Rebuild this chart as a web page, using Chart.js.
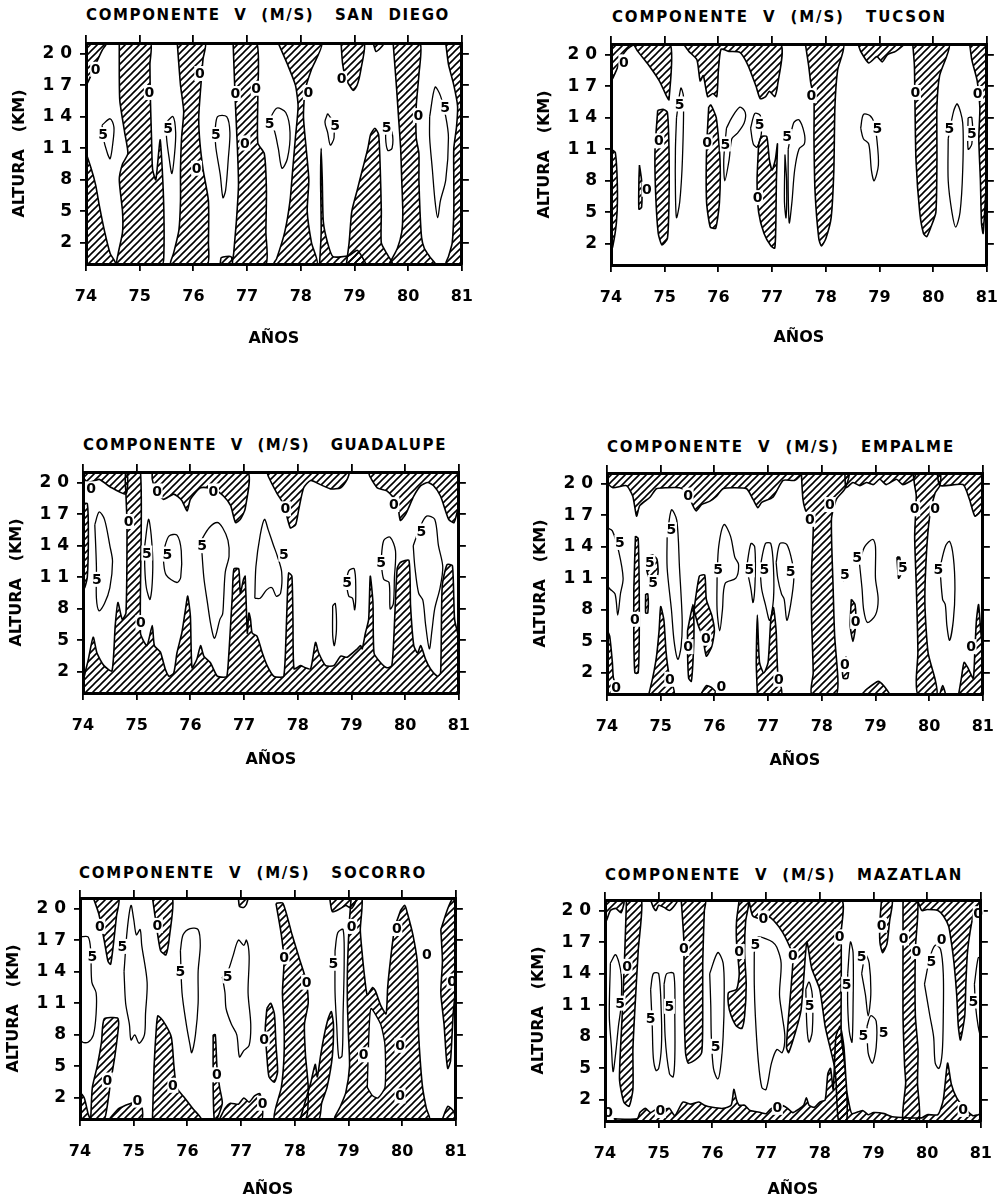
<!DOCTYPE html>
<html>
<head>
<meta charset="utf-8">
<script src="https://cdn.jsdelivr.net/npm/chart.js@4.4.1/dist/chart.umd.min.js"></script>
<style>
  body { margin: 0; background: #fff; width: 999px; height: 1197px; position: relative; overflow: hidden; }
  .ttl { position: absolute; font: bold 15px "DejaVu Sans"; line-height: 18px; white-space: pre; color: #000; }
  canvas { position: absolute; }
</style>
</head>
<body>
<script>
// axis ticks
const yearTicks = [74, 75, 76, 77, 78, 79, 80, 81];
const heightTicks = [2, 5, 8, 11, 14, 17, 20];

// hatched areas (V < 0), [year, km] outlines
const sanDiegoHatch = [
  [[74,21],[74,17],[74.1,18],[74.2,19.2],[74.3,20.3],[74.38,21]],
  [[74,0],[74,10.4],[74.1,9],[74.18,7.5],[74.25,5.5],[74.35,3],[74.45,1],[74.55,0]],
  [[74.62,21],[74.62,18],[74.63,15.5],[74.72,12.5],[74.78,10.5],[74.68,9.5],[74.62,8],[74.68,5],[74.68,3],[74.6,1],[74.58,0],[75.42,0],[75.45,1],[75.45,5],[75.42,9],[75.38,11.8],[75.3,8],[75.24,9],[75.22,12],[75.2,15.5],[75.19,19],[75.2,21]],
  [[75.7,21],[75.76,17],[75.82,14.5],[75.78,12],[75.76,9],[75.76,6],[75.73,3.2],[75.63,1],[75.58,0],[76.26,0],[76.28,2],[76.28,6],[76.18,9],[76.12,11.6],[76.1,14],[76.14,17],[76.18,19.5],[76.22,21]],
  [[76.74,21],[76.78,15.5],[76.82,11],[76.84,7.5],[76.8,4],[76.75,1],[76.74,0],[77.35,0],[77.35,3],[77.36,7],[77.32,10.5],[77.2,11.5],[77.2,16],[77.18,21]],
  [[76.5,0],[76.52,0.6],[76.7,0.7],[76.72,0]],
  [[77.58,21],[77.75,19],[77.9,17],[77.95,15],[77.9,12],[77.85,9],[77.8,6],[77.7,3],[77.55,0.5],[77.5,0],[78.3,0],[78.2,2],[78.12,5],[78.15,8],[78.1,11],[78.05,14],[78.08,16.5],[78.2,18.5],[78.39,21]],
  [[78.35,0],[78.38,3],[78.37,8],[78.38,11],[78.4,8],[78.42,4],[78.5,2],[78.6,0.7],[78.9,0.8],[79.05,1.3],[79.15,0.6],[79.2,0]],
  [[78.85,0],[78.9,2],[78.95,5],[79.05,7],[79.15,9],[79.25,11],[79.3,12.3],[79.38,12.9],[79.45,12.3],[79.48,9],[79.5,5],[79.5,2],[79.6,1],[79.7,0]],
  [[79.72,21],[79.78,17],[79.82,14],[79.86,11],[79.88,8],[79.9,5],[79.88,3],[79.8,1.5],[79.7,0.5],[79.65,0],[80.5,0],[80.4,0.7],[80.3,1.5],[80.25,2.5],[80.22,5],[80.2,8],[80.2,10.5],[80.15,12],[80.15,15],[80.2,18],[80.22,21]],
  [[78.75,21],[78.78,19],[78.85,17.5],[78.98,16.5],[79.05,17],[79.12,18.5],[79.18,21]],
  [[79.35,21],[79.4,20.2],[79.48,20.5],[79.55,21]],
  [[80.7,21],[80.75,19],[80.85,17],[80.92,15],[80.9,13],[80.85,11],[80.85,8],[80.85,5],[80.82,2],[80.75,0.7],[80.7,0],[81,0],[81,21]]
];
const sanDiegoFive = [
  [[74.3,13.2],[74.45,13.8],[74.52,13],[74.5,11.5],[74.45,10],[74.4,10.5],[74.32,12]],
  [[75.5,13.5],[75.62,14],[75.67,12.5],[75.65,10.5],[75.6,8.6],[75.55,10],[75.5,12]],
  [[76.4,12.5],[76.45,14],[76.62,14],[76.68,12.5],[76.65,10],[76.6,7],[76.55,6.3],[76.5,8.5],[76.42,11]],
  [[77.4,13.5],[77.55,14.8],[77.72,14.4],[77.8,12.5],[77.75,10],[77.65,9.1],[77.58,11],[77.5,12.8]],
  [[78.5,14.3],[78.6,13.5],[78.62,12],[78.55,11.3],[78.5,12.5],[78.45,13.5]],
  [[79.6,13.3],[79.7,12.5],[79.7,11],[79.62,10.8],[79.58,12]],
  [[80.4,14],[80.5,16.8],[80.6,16],[80.7,14],[80.75,12],[80.7,8],[80.6,6],[80.55,4.4],[80.5,6],[80.45,9],[80.4,12]]
];
const sanDiegoZeroAt = [[74.18,18.5],[75.18,16.3],[76.12,18.1],[76.06,9.1],[76.78,16.2],[77.17,16.7],[76.96,11.5],[78.14,16.3],[78.76,17.6],[80.19,14.1]];
const sanDiegoFiveAt = [[74.32,12.3],[75.53,12.9],[76.42,12.3],[77.42,13.4],[78.64,13.2],[79.6,13],[80.69,14.9]];

const tucsonHatch = [
  [[74,21],[74,17.5],[74.1,18.5],[74.2,19.8],[74.3,20.5],[74.42,21]],
  [[74,11],[74.08,10.7],[74.12,7],[74.1,4],[74.03,1.7],[74,1.5]],
  [[74.42,21],[74.5,20.3],[74.7,19],[74.9,17.5],[75.04,16],[75.08,15.7],[75.1,21]],
  [[74.87,14.7],[74.82,11],[74.83,7],[74.88,3],[74.95,1.9],[75.05,2.5],[75.08,6],[75.08,11],[75.05,14.5],[74.97,14.8]],
  [[74.53,9.5],[74.57,8],[74.57,5.5],[74.52,5.3],[74.52,8]],
  [[75.35,21],[75.45,20.3],[75.6,19.5],[75.66,17.5],[75.72,18],[75.8,16],[75.9,16.3],[75.97,16],[76,18.5],[76.05,20.5],[76.2,20.3],[76.4,20.2],[76.55,19],[76.7,17],[76.78,15.8],[76.88,16],[76.95,16.5],[77.05,16],[77.1,17],[77.15,21]],
  [[75.82,15],[75.78,11],[75.78,6],[75.85,3.6],[75.95,3.5],[76.02,6],[76.03,10],[75.96,14],[75.86,15.2]],
  [[76.75,11.5],[76.72,8],[76.75,5],[76.85,3],[76.98,1.8],[77.05,1.6],[77.07,4],[77.08,8],[77.1,11.5],[77.06,10],[77,9],[76.95,10],[76.9,12.2],[76.8,12.2]],
  [[77.62,21],[77.68,19],[77.72,17.3],[77.78,15.8],[77.78,12],[77.8,7],[77.87,2.5],[77.92,1.8],[78,2.5],[78.1,4.5],[78.15,9],[78.17,15],[78.22,18.5],[78.33,21]],
  [[78.6,21],[78.65,20.3],[78.8,19.2],[78.95,19.8],[79.05,19.3],[79.15,20],[79.3,20.3],[79.45,21]],
  [[79.62,21],[79.65,19],[79.66,15.7],[79.68,10],[79.75,5],[79.82,3],[79.88,2.7],[79.95,3.5],[80.05,5],[80.07,10],[80.07,15],[80.12,18],[80.3,21]],
  [[80.68,21],[80.72,19.5],[80.82,17.5],[80.87,15],[80.85,12],[80.88,8],[80.9,4],[80.93,3],[80.97,6],[81,9],[81,21]]
];
const tucsonFive = [
  [[75.22,14],[75.3,16.8],[75.35,16],[75.33,10],[75.28,6],[75.22,4.5],[75.2,7],[75.2,11]],
  [[76.15,13],[76.25,14],[76.4,15],[76.5,14.5],[76.48,13.5],[76.35,12.5],[76.25,12],[76.2,10],[76.12,8],[76.1,10]],
  [[76.6,13],[76.68,14.4],[76.78,14.2],[76.8,12.5],[76.72,11.2],[76.65,11.5]],
  [[77.3,11],[77.4,13.5],[77.5,13.8],[77.6,12.5],[77.6,11.5],[77.5,11],[77.42,9],[77.37,6],[77.32,4],[77.3,7]],
  [[78.65,13],[78.7,14.3],[78.82,14.2],[78.9,13.5],[78.95,12],[78.98,9.5],[78.9,8],[78.85,9],[78.8,11.5],[78.7,12]],
  [[80.28,12],[80.38,14.6],[80.45,15.3],[80.55,13.5],[80.55,9],[80.5,5],[80.42,3.6],[80.35,5],[80.28,8]],
  [[80.65,14],[80.72,14],[80.72,11.5],[80.65,11]],
  [[77.24,10.5],[77.27,8],[77.26,4.5],[77.23,6]]
];
const tucsonZeroAt = [[74.24,19.3],[74.89,11.8],[74.67,7.2],[75.79,11.7],[76.73,6.4],[77.73,16.1],[79.67,16.4],[80.83,16.3]];
const tucsonFiveAt = [[75.28,15.3],[76.13,11.5],[76.77,13.4],[77.28,12.2],[78.96,13],[80.3,13],[80.72,12.5]];

const guadalupeHatch = [
  [[74,21],[74,20.5],[74.1,20],[74.3,20.3],[74.5,19.6],[74.8,18.9],[74.8,21]],
  [[74,18],[74.08,18],[74.1,15],[74.08,11],[74.03,10],[74,10.2]],
  [[74,0],[74,1],[74.1,3.2],[74.19,5.3],[74.26,3.8],[74.39,2.6],[74.54,2.1],[74.6,6.4],[74.65,8.6],[74.73,7],[74.8,7.6],[74.82,16],[74.8,18.9],[74.8,21],[75.07,21],[75.07,5.7],[75.19,4.5],[75.29,6.4],[75.33,4.5],[75.44,3.9],[75.53,2.3],[75.6,1.6],[75.69,1.9],[75.75,3.8],[75.84,5.7],[75.91,8],[75.95,9.2],[76,7.3],[76.03,2.4],[76.12,3.2],[76.19,4.5],[76.25,3.5],[76.37,2.9],[76.5,1.6],[76.62,1.5],[76.68,1.6],[76.71,3.2],[76.74,5.7],[76.78,9.2],[76.81,11.8],[76.9,11.8],[76.93,9.5],[76.99,10.8],[77.02,11.1],[77.06,5.7],[77.09,7.6],[77.12,7],[77.15,5.7],[77.24,5.4],[77.34,3.8],[77.43,2.6],[77.55,1.6],[77.68,1.5],[77.74,1.6],[77.77,3.8],[77.8,8.3],[77.83,11.4],[77.89,11.1],[77.91,7],[77.93,2.3],[78.05,2.6],[78.14,2.4],[78.24,2.3],[78.33,4.8],[78.39,3.8],[78.52,2.6],[78.67,2.6],[78.8,3.5],[78.92,3.4],[79.11,4.2],[79.17,4.5],[79.2,4.2],[79.26,5.7],[79.32,7],[79.35,11.1],[79.4,8.6],[79.42,3.8],[79.54,2.9],[79.66,2.4],[79.75,2.6],[79.79,5.4],[79.85,11.8],[79.91,12.4],[80.07,12.6],[80.1,8.3],[80.16,4.5],[80.23,3.8],[80.29,4.5],[80.38,3.2],[80.47,2.3],[80.6,1.6],[80.66,1.9],[80.69,10.2],[80.78,12.2],[80.88,12.1],[80.92,7],[81,5.1],[81,0]],
  [[75.29,21],[75.29,20.3],[75.38,19],[75.5,18.4],[75.69,18.9],[75.84,18.3],[75.94,17.3],[76,18.4],[76.19,19.5],[76.43,19.4],[76.62,18.7],[76.75,17.8],[76.84,16.2],[76.93,16.5],[77.02,17.5],[77.06,21]],
  [[77.43,21],[77.45,20.6],[77.61,19],[77.74,17.9],[77.86,15.7],[77.96,16],[78.02,17.5],[78.11,19.5],[78.24,20.2],[78.42,19.8],[78.61,19.4],[78.8,19.5],[78.92,20.3],[78.95,21]],
  [[79.32,21],[79.34,20.6],[79.48,19.5],[79.66,19.2],[79.85,18.1],[79.91,16.4],[80.01,17],[80.16,18.7],[80.29,19.7],[80.42,20],[80.53,19.7],[80.66,18.7],[80.81,16.5],[80.91,16.2],[81,18.1],[81,21]]
];
const guadalupeFive = [
  [[74.22,16],[74.3,17.2],[74.4,16.5],[74.5,14],[74.55,12.5],[74.5,10],[74.4,8.5],[74.3,7.8],[74.25,9],[74.25,12]],
  [[75.15,14],[75.22,16.5],[75.27,15],[75.3,12],[75.25,8.9],[75.18,10],[75.15,12]],
  [[75.5,13.5],[75.6,14.9],[75.75,15],[75.83,13.5],[75.82,11],[75.75,10.5],[75.55,11.2],[75.5,12.5]],
  [[76.2,14.5],[76.35,15.7],[76.5,16.2],[76.6,15.7],[76.7,14.5],[76.72,13],[76.65,11.5],[76.62,9],[76.6,7.5],[76.55,7],[76.45,5.2],[76.38,6.5],[76.32,8.5],[76.25,11]],
  [[77.2,9],[77.22,12],[77.3,15],[77.38,16.5],[77.45,15.5],[77.55,14],[77.62,13],[77.7,11.5],[77.68,9.5],[77.6,9.2],[77.52,10],[77.42,9.8],[77.3,9]],
  [[78.9,10.5],[78.95,11.6],[79.05,11.8],[79.08,10],[79.06,7.9],[79.02,9],[78.95,9.2]],
  [[78.65,8.3],[78.7,8.5],[78.72,6],[78.68,4.5],[78.65,5.5]],
  [[79.55,12.5],[79.6,14.5],[79.72,14.8],[79.82,13.5],[79.8,11],[79.78,8.5],[79.72,8],[79.7,10.5],[79.6,10.8]],
  [[80.15,14],[80.28,15.8],[80.4,16.8],[80.55,16.5],[80.62,14],[80.7,12],[80.65,10],[80.55,8],[80.5,6],[80.45,4.2],[80.38,6.5],[80.33,8.8],[80.25,9.5],[80.18,12]]
];
const guadalupeZeroAt = [[74.15,19.4],[74.85,16.3],[75.08,6.7],[75.38,19.2],[76.43,19.2],[77.77,17.5],[79.79,17.9]];
const guadalupeFiveAt = [[74.26,10.8],[75.19,13.3],[75.57,13.2],[76.22,14],[77.74,13.2],[78.92,10.5],[79.55,12.4],[80.3,15.4]];

const empalmeHatch = [
  [[74,21],[74,20.1],[74.11,19.6],[74.36,19.8],[74.48,18.8],[74.55,16.9],[74.61,17.9],[74.8,18.7],[74.92,19.5],[75.11,19.6],[75.35,19.6],[75.48,19.3],[75.6,17.9],[75.66,17.4],[75.76,18],[75.91,18.3],[76.04,18.8],[76.16,19.5],[76.35,19.6],[76.6,19.5],[76.72,18.5],[76.81,17.7],[76.88,18.2],[77.09,18.7],[77.28,20.3],[77.5,20.3],[77.62,21]],
  [[77.62,21],[77.65,18.5],[77.72,17.2],[77.84,16.6],[77.81,11.8],[77.81,7.1],[77.84,2],[77.81,0],[78.27,0],[78.3,1.4],[78.24,5.5],[78.21,10.3],[78.18,16.6],[78.27,18.5],[78.43,19.5],[78.5,21]],
  [[78.43,21],[78.45,19.6],[78.58,20.1],[78.71,19.8],[78.83,20.1],[78.96,19.9],[79.08,20.4],[79.2,19.9],[79.39,20.4],[79.51,19.9],[79.7,20.4],[79.75,21]],
  [[79.7,21],[79.73,19.8],[79.76,18.8],[79.73,15],[79.76,10.3],[79.79,3.9],[79.76,1.4],[79.79,0],[80.14,0],[80.11,1.4],[79.98,3.9],[79.92,8.7],[79.95,13.4],[80.01,16.9],[80.11,19.1],[80.2,19.8],[80.2,21]],
  [[80.15,21],[80.2,19.8],[80.63,19.9],[80.75,18.5],[80.85,16.9],[80.93,17.2],[81,17.9],[81,21]],
  [[74,0],[74,6],[74.05,5.5],[74.1,3],[74.12,1.5],[74.2,0.5],[74.25,0]],
  [[74.53,15],[74.58,14.8],[74.6,10],[74.6,5],[74.58,2],[74.52,2],[74.5,5],[74.5,10]],
  [[74.73,13],[74.85,13.2],[74.93,12.8],[74.95,11.5],[74.88,10.2],[74.8,10.8],[74.73,12]],
  [[74.72,9.5],[74.76,9.5],[74.76,7.7],[74.72,7.7]],
  [[74.78,0],[74.85,1.5],[74.92,3.5],[74.97,6],[75,8.3],[75.06,7],[75.1,4],[75.15,2],[75.25,0]],
  [[75.5,6],[75.6,8.5],[75.62,6],[75.6,3],[75.57,1.2],[75.52,1.5],[75.5,4]],
  [[75.62,8],[75.72,11.2],[75.82,11.3],[75.85,9],[75.95,7.5],[76,6],[75.95,4.5],[75.85,3.6],[75.78,5.5],[75.7,6.5]],
  [[75.75,0],[75.85,0.8],[75.95,0.6],[76.05,0]],
  [[76.8,0],[76.78,3],[76.8,7.5],[76.84,3],[76.92,2],[77,3],[77.05,7],[77.1,8.2],[77.15,6],[77.18,2],[77.25,0]],
  [[78.38,2.5],[78.45,3.5],[78.5,2.5],[78.48,1.5],[78.4,1.5]],
  [[78.55,9],[78.62,8.5],[78.63,6.5],[78.58,5],[78.53,6.5]],
  [[78.75,0],[78.85,0.5],[79.05,1.2],[79.15,0.8],[79.25,0]],
  [[80.55,0],[80.6,1.5],[80.65,3],[80.72,2.5],[80.82,1.5],[80.85,4],[80.88,7],[80.92,8.5],[80.96,6],[81,4],[81,0]],
  [[79.4,13],[79.45,13],[79.48,11.5],[79.43,11]],
  [[80.2,0],[80.25,0.8],[80.3,0]]
];
const empalmeFive = [
  [[74,15.8],[74.1,15.5],[74.22,13.5],[74.3,11],[74.25,9.5],[74.2,7.5],[74.15,9.5],[74.05,10],[74,10.5]],
  [[75.12,15],[75.2,17.5],[75.3,16.5],[75.35,12],[75.4,7],[75.38,4.5],[75.32,3.3],[75.25,5],[75.2,8],[75.12,12]],
  [[76.05,11],[76.08,14],[76.18,16.1],[76.3,15],[76.38,13],[76.45,12.3],[76.4,11],[76.2,10.5],[76.15,8],[76.1,6],[76.05,8]],
  [[76.6,12],[76.68,14.3],[76.75,14],[76.76,11],[76.72,8.7],[76.68,10]],
  [[76.85,12],[76.95,14.3],[77.05,14.3],[77.1,12],[77.1,9],[77.03,7],[76.95,8.5],[76.88,10]],
  [[77.15,12.5],[77.22,14.3],[77.35,14.2],[77.45,12.5],[77.48,11],[77.42,8.5],[77.35,7],[77.3,9],[77.25,9.5],[77.18,11]],
  [[78.7,12.5],[78.8,14],[78.95,14.7],[79,14],[79,11],[79.05,9],[79,7.5],[78.85,6.8],[78.78,8],[78.75,10]],
  [[80.2,12],[80.3,14],[80.38,14.5],[80.45,13],[80.48,10],[80.45,7],[80.38,5.1],[80.33,6.5],[80.3,8.5],[80.25,9]],
  [[78.38,11.8],[78.45,12],[78.47,11],[78.4,10.8]]
];
const empalmeZeroAt = [[74.17,0.6],[74.52,7.1],[75.17,1.4],[75.51,18.9],[75.51,4.5],[75.84,5.3],[76.13,0.7],[77.2,1.4],[77.78,16.6],[78.15,18],[78.43,2.8],[78.63,6.9],[79.73,17.6],[80.11,17.6],[80.78,4.5]];
const empalmeFiveAt = [[74.24,14.4],[75.2,15.6],[76.07,11.8],[76.65,11.8],[76.93,11.8],[77.42,11.7],[78.66,13],[80.17,11.8],[74.8,12.5],[74.86,10.6],[78.43,11.4],[79.51,12]];

const socorroHatch = [
  [[74.25,21],[74.35,19.5],[74.45,17],[74.52,15],[74.57,14.7],[74.62,16.5],[74.68,19.3],[74.72,21]],
  [[74.2,0],[74.23,3],[74.32,5],[74.4,7.3],[74.45,9.5],[74.7,9.6],[74.72,9],[74.65,6],[74.57,3.5],[74.5,1],[74.45,0]],
  [[74,0],[74,2.5],[74.08,2],[74.15,0.5],[74.18,0]],
  [[74.55,0],[74.7,0.9],[74.85,1.3],[75,1.6],[75.12,2],[75.15,0]],
  [[75.35,21],[75.42,18.5],[75.5,16],[75.6,15.6],[75.67,17.5],[75.72,21]],
  [[75.35,0],[75.38,5],[75.42,8.5],[75.45,9.8],[75.55,9.3],[75.7,7.8],[75.75,5],[75.8,3],[75.95,2],[76.1,1],[76.25,0]],
  [[76.48,8],[76.52,8],[76.55,5],[76.6,3],[76.65,1.5],[76.55,0],[76.5,0],[76.48,3]],
  [[76.6,0],[76.7,1],[76.8,1.5],[76.95,1.4],[77.05,2],[77.15,1.6],[77.25,2.2],[77.35,2.4],[77.4,1],[77.38,0]],
  [[76.95,21],[76.97,20.2],[77.05,20.1],[77.1,20.4],[77.12,21]],
  [[77.48,10.5],[77.55,11],[77.62,10],[77.65,7],[77.68,4.5],[77.62,3.5],[77.52,4],[77.48,6],[77.45,8.5]],
  [[77.65,20.5],[77.75,17.5],[77.8,15],[77.77,12],[77.8,9],[77.8,6],[77.75,3],[77.62,0],[78.2,0],[78.25,3],[78.2,6],[78.18,9],[78.25,11],[78.22,13],[78.1,15],[77.95,17.5],[77.78,20.5]],
  [[78.1,0],[78.3,3.5],[78.38,5.2],[78.42,4],[78.48,6],[78.55,8],[78.62,9.5],[78.68,10.2],[78.72,9],[78.7,6],[78.6,3],[78.5,1.5],[78.45,0]],
  [[78.65,21],[78.7,19.7],[78.85,20],[78.95,20.3],[79.05,20],[79.12,20.5],[79.15,21]],
  [[79.05,21],[79.02,19],[79,17],[78.98,14],[78.98,11],[79,8],[79.02,5],[78.95,2.5],[78.85,1.2],[78.75,0],[80.5,0],[80.45,1],[80.38,3],[80.33,6],[80.3,9],[80.3,12],[80.28,15],[80.2,17.5],[80.1,19.5],[80.05,20.3],[79.97,19.8],[79.85,17.8],[79.78,15],[79.73,12.5],[79.7,10],[79.6,10.8],[79.5,12.2],[79.45,12.5],[79.35,11.8],[79.3,13.5],[79.25,16],[79.22,18],[79.25,21]],
  [[80.72,18],[80.75,15],[80.72,12],[80.78,9],[80.82,6],[80.85,4.8],[80.9,5.5],[80.95,10],[81,13],[81,20],[80.95,21],[80.85,20]],
  [[80.75,0],[80.85,1.2],[80.95,0.8],[81,0]]
];
const socorroClear = [
  [[79.35,3],[79.38,8],[79.42,10.5],[79.6,9],[79.68,7],[79.68,3],[79.55,2],[79.45,2.2]]
];
const socorroFive = [
  [[74,17.3],[74.15,17.3],[74.2,16],[74.22,13],[74.3,12],[74.3,10],[74.25,8],[74.15,7.3],[74.05,7.3],[74,7.8]],
  [[74.82,14],[74.88,18],[74.95,20.3],[75,19],[75.05,17.5],[75.12,18],[75.15,16.5],[75.25,13],[75.22,10],[75.2,8],[75.1,7.2],[75.02,8],[74.95,7.5],[74.92,9],[74.85,11]],
  [[75.87,16],[75.92,17.5],[76.05,18.1],[76.2,18],[76.24,16.5],[76.2,14],[76.2,11],[76.15,8],[76.08,6.3],[76.05,7],[75.98,9],[75.9,12]],
  [[76.65,13.5],[76.75,14],[76.85,15.5],[76.95,17],[77.05,16.5],[77.1,17],[77.15,15.5],[77.13,12],[77.18,9],[77.15,7],[77.05,6.5],[76.97,5.9],[76.92,8],[76.82,9],[76.72,10.5],[76.7,12]],
  [[78.75,16],[78.8,17.7],[78.9,18],[78.92,15],[78.9,10],[78.88,6],[78.82,5.8],[78.78,9],[78.75,12]]
];
const socorroZeroAt = [[74.37,18.3],[74.51,3.7],[75.07,1.8],[75.44,18.4],[75.73,3.2],[76.55,4.2],[77.4,1.5],[77.43,7.6],[77.8,15.4],[78.22,13],[79.06,18.3],[79.28,6.1],[79.9,18.1],[79.96,7],[79.96,2.2],[80.46,15.6],[80.93,13.1]];
const socorroFiveAt = [[74.23,15.5],[74.79,16.4],[75.87,14],[76.75,13.6],[78.72,14.8]];

const mazatlanHatch = [
  [[74,21],[74.02,19],[74.1,20],[74.2,20.2],[74.3,19.8],[74.35,21]],
  [[74.4,21],[74.37,16.3],[74.32,10],[74.27,4],[74.35,1.8],[74.45,1.4],[74.52,3],[74.52,6.8],[74.55,10],[74.62,16.3],[74.68,21]],
  [[74,0],[74,1.2],[74.05,1.3],[74.1,0.3],[74.2,0.2],[74.6,0.2],[74.65,0.8],[74.75,1.2],[74.85,0.8],[74.95,1.1],[75.1,1.1],[75.2,1.2],[75.3,0.5],[75.45,1.8],[75.6,1.6],[75.75,1.8],[75.85,1.5],[76,1.3],[76.2,1.2],[76.35,1.5],[76.4,3],[76.45,2],[76.5,1.5],[76.6,1.5],[76.7,1],[76.8,0.9],[76.9,0.8],[77,0.7],[77.1,1.2],[77.2,1.1],[77.3,1.5],[77.4,1.2],[77.5,0.8],[77.6,1.1],[77.7,1.5],[77.75,2.2],[77.8,1.5],[77.9,1.3],[78,1.8],[78.1,2],[78.15,4.5],[78.2,5],[78.25,3],[78.3,8],[78.38,9],[78.45,7],[78.5,3],[78.55,1.5],[78.6,0.7],[78.8,1],[78.9,0.6],[79,0.8],[79.2,0.7],[79.35,0.4],[79.6,0.3],[79.9,0.3],[80,0.6],[80.2,0.6],[80.3,2],[80.38,5.5],[80.45,3.5],[80.55,2.2],[80.7,1.2],[80.85,0.5],[80.95,0.6],[81,0.6],[81,0]],
  [[75.42,21],[75.47,17],[75.47,12],[75.5,6.5],[75.55,5.5],[75.68,5.8],[75.8,6.5],[75.82,10],[75.82,15],[75.85,20],[75.87,21]],
  [[74.85,21],[74.9,20.3],[74.95,20],[75,20.5],[75.1,20.3],[75.2,20],[75.3,20.5],[75.35,21]],
  [[76.5,21],[76.45,19],[76.45,17],[76.5,14],[76.45,12.5],[76.3,12.2],[76.3,11],[76.35,10],[76.45,9],[76.55,8.8],[76.6,10],[76.63,13],[76.6,16],[76.62,19],[76.68,21]],
  [[76.68,21],[76.75,19.5],[76.9,19.2],[77.05,19.4],[77.15,19],[77.3,18],[77.42,16.8],[77.5,15.7],[77.47,13],[77.42,10],[77.38,7],[77.42,6.5],[77.55,8.5],[77.65,10.5],[77.7,13.5],[77.76,17],[77.85,14.5],[78,12.5],[78.1,9],[78.2,6.8],[78.26,5.5],[78.3,4],[78.35,0],[78.5,0],[78.5,3],[78.45,6],[78.4,8],[78.4,14],[78.4,18],[78.4,21]],
  [[79.15,21],[79.12,19],[79.12,17],[79.17,16],[79.25,16.8],[79.3,19],[79.35,21]],
  [[79.55,21],[79.55,16.3],[79.55,10],[79.58,5.2],[79.6,3.6],[79.55,0],[79.85,0],[79.82,3.6],[79.83,6.8],[79.78,10],[79.78,16.3],[79.82,21]],
  [[79.82,21],[79.9,20],[80,20.1],[80.2,20],[80.3,19.5],[80.4,18.5],[80.45,17],[80.5,15],[80.55,12],[80.58,9],[80.62,7.7],[80.7,10],[80.72,13],[80.75,16],[80.8,18],[80.88,20],[81,21]]
];
const mazatlanFive = [
  [[74.1,15],[74.2,15.8],[74.3,14],[74.3,11],[74.25,9],[74.2,6.5],[74.15,4.7],[74.12,7],[74.08,10]],
  [[74.85,12.5],[74.9,14],[75,14],[75.05,10],[75.05,7],[75,5],[74.95,4.8],[74.9,6],[74.88,9]],
  [[75.1,13],[75.15,14],[75.28,14],[75.3,10],[75.3,6],[75.27,4.2],[75.2,4.5],[75.12,8]],
  [[75.95,14],[76.1,16],[76.2,15],[76.22,12],[76.2,8],[76.15,5],[76.1,4],[76.02,5],[75.98,8],[75.97,11]],
  [[76.78,16],[76.85,17.5],[77,17.3],[77.12,17],[77.2,16.5],[77.28,15],[77.25,12],[77.3,10],[77.35,8],[77.3,6.5],[77.2,6.8],[77.1,5.5],[77,3],[76.92,3.2],[76.85,6],[76.8,10],[76.78,13]],
  [[77.74,12.5],[77.8,13.2],[77.86,12],[77.86,8.5],[77.8,7.5],[77.76,9]],
  [[78.52,14],[78.57,17],[78.62,16],[78.62,11],[78.6,7.5],[78.55,8.5],[78.52,11]],
  [[78.78,14],[78.85,15.8],[78.92,15],[78.95,12],[78.9,10],[78.85,12]],
  [[78.88,9],[78.95,10],[79.05,9.5],[79.05,7],[78.98,5.5],[78.9,6.5]],
  [[79.95,13],[80.05,15.5],[80.15,16.7],[80.25,16.3],[80.3,14],[80.3,10],[80.28,6.5],[80.22,5],[80.15,5.5],[80.12,8],[80.05,10]],
  [[80.88,13],[80.95,15.5],[81,15.5],[81,8],[80.95,9],[80.9,11]]
];
const mazatlanZeroAt = [[74.41,14.7],[75.47,16.4],[76.5,16.1],[76.95,19.3],[77.5,15.7],[78.37,17.5],[79.15,18.6],[79.56,17.4],[79.8,16.1],[80.27,17.3],[75.03,1],[77.21,1.3],[80.67,1.1],[74.06,0.8],[80.95,19.7]];
const mazatlanFiveAt = [[74.28,11.2],[74.85,9.8],[75.2,10.9],[76.06,7.1],[76.8,16.8],[77.81,11],[78.5,13],[78.78,15.6],[78.81,8.1],[79.19,8.4],[80.08,15.2],[80.86,11.4]];

// panel placement (plot frame left/top in page px), title span, gap to "AÑOS"
const panels = [
  { name: 'SAN  DIEGO', left: 86, top: 43, aGap: 74, tL: 86, tR: 450, tY: 15, hatch: sanDiegoHatch, clear: [], five: sanDiegoFive, zeros: sanDiegoZeroAt, fives: sanDiegoFiveAt },
  { name: 'TUCSON', left: 611, top: 44, aGap: 72, tL: 612, tR: 947, tY: 17, hatch: tucsonHatch, clear: [], five: tucsonFive, zeros: tucsonZeroAt, fives: tucsonFiveAt },
  { name: 'GUADALUPE', left: 83, top: 472, aGap: 66, tL: 83, tR: 447, tY: 445, hatch: guadalupeHatch, clear: [], five: guadalupeFive, zeros: guadalupeZeroAt, fives: guadalupeFiveAt },
  { name: 'EMPALME', left: 607, top: 473, aGap: 66, tL: 607, tR: 955, tY: 447, hatch: empalmeHatch, clear: [], five: empalmeFive, zeros: empalmeZeroAt, fives: empalmeFiveAt },
  { name: 'SOCORRO', left: 80, top: 898, aGap: 70, tL: 79, tR: 427, tY: 873, hatch: socorroHatch, clear: socorroClear, five: socorroFive, zeros: socorroZeroAt, fives: socorroFiveAt },
  { name: 'MAZATLAN', left: 605, top: 900, aGap: 68, tL: 605, tR: 963, tY: 875, hatch: mazatlanHatch, clear: [], five: mazatlanFive, zeros: mazatlanZeroAt, fives: mazatlanFiveAt }
];

const PLOT_W = 377, PLOT_H = 221, Y_AXIS_W = 80, TOP_AXIS_H = 26, RIGHT_AXIS_W = 12, PAD_R = 14;

function toPoints(shapes) {
  const pts = [];
  shapes.forEach(s => {
    s.forEach(p => pts.push({ x: p[0], y: p[1] }));
    pts.push({ x: s[0][0], y: s[0][1] });
    pts.push({ x: null, y: null });
  });
  return pts;
}

function hatchPattern(ctx) {
  const t = document.createElement('canvas');
  t.width = 7; t.height = 7;
  const g = t.getContext('2d');
  g.strokeStyle = '#000';
  g.lineWidth = 1.6;
  g.beginPath();
  g.moveTo(0, 7); g.lineTo(7, 0);
  g.moveTo(-1, 1); g.lineTo(1, -1);
  g.moveTo(6, 8); g.lineTo(8, 6);
  g.stroke();
  return ctx.createPattern(t, 'repeat');
}

function labelPlugin(p) {
  return {
    id: 'contourLabels',
    afterDatasetsDraw(chart) {
      const { ctx, scales: { x, y } } = chart;
      ctx.save();
      ctx.textAlign = 'center';
      ctx.textBaseline = 'middle';
      ctx.font = 'bold 14px "DejaVu Sans"';
      const put = (list, txt) => list.forEach(([vx, vy]) => {
        const px = x.getPixelForValue(vx), py = y.getPixelForValue(vy);
        ctx.fillStyle = '#fff';
        ctx.fillRect(px - 5.5, py - 7.5, 11, 15);
        ctx.fillStyle = '#000';
        ctx.fillText(txt, px, py + 1);
      });
      put(p.zeros, '0');
      put(p.fives, '5');
      ctx.restore();
    }
  };
}

function makePanel(p) {
  const title = document.createElement('div');
  title.className = 'ttl';
  title.textContent = 'COMPONENTE  V  (M/S)   ' + p.name;
  title.style.left = p.tL + 'px';
  title.style.top = (p.tY - 9) + 'px';
  document.body.appendChild(title);
  const natural = title.getBoundingClientRect().width;
  title.style.letterSpacing = ((p.tR - p.tL - natural) / title.textContent.length) + 'px';

  const xAxisH = p.aGap + 12;
  const W = Y_AXIS_W + PLOT_W + RIGHT_AXIS_W + PAD_R;
  const H = TOP_AXIS_H + PLOT_H + xAxisH;
  const cv = document.createElement('canvas');
  cv.width = W; cv.height = H;
  cv.style.left = (p.left - Y_AXIS_W) + 'px';
  cv.style.top = (p.top - TOP_AXIS_H) + 'px';
  cv.style.width = W + 'px'; cv.style.height = H + 'px';
  document.body.appendChild(cv);
  const ctx = cv.getContext('2d');

  const setYears = s => { s.ticks = yearTicks.map(v => ({ value: v })); };
  const setHeights = s => { s.ticks = heightTicks.map(v => ({ value: v })); };
  const frame = { display: true, width: 3, color: '#000', z: 1 };

  new Chart(ctx, {
    type: 'line',
    data: {
      datasets: [
        { data: toPoints(p.five), borderColor: '#000', borderWidth: 1.3, fill: false, pointRadius: 0, tension: 0.3 },
        { data: toPoints(p.clear), borderColor: '#000', borderWidth: 1.4, backgroundColor: '#fff', fill: 'shape', pointRadius: 0, tension: 0.2 },
        { data: toPoints(p.hatch), borderColor: '#000', borderWidth: 1.6, backgroundColor: hatchPattern(ctx), fill: 'shape', pointRadius: 0, tension: 0.2 }
      ]
    },
    options: {
      responsive: false,
      animation: false,
      devicePixelRatio: 1,
      layout: { padding: { top: 0, right: PAD_R, left: 0, bottom: 0 } },
      plugins: { legend: { display: false }, tooltip: { enabled: false } },
      scales: {
        x: {
          type: 'linear', position: 'bottom', min: 74, max: 81,
          afterBuildTicks: setYears,
          ticks: { font: { family: '"DejaVu Sans"', size: 16, weight: 'bold' }, color: '#000', padding: 16, maxRotation: 0, autoSkip: false, callback: v => String(v) },
          grid: { drawOnChartArea: false, drawTicks: true, tickLength: 7, color: '#000', lineWidth: 1.8 },
          border: frame,
          title: { display: true, text: 'AÑOS', font: { family: '"DejaVu Sans"', size: 16, weight: 'bold' }, color: '#000', padding: { top: 0, bottom: 2 } },
          afterFit: s => { s.height = xAxisH; }
        },
        x2: {
          type: 'linear', position: 'top', min: 74, max: 81,
          afterBuildTicks: setYears,
          ticks: { display: false },
          grid: { drawOnChartArea: false, drawTicks: true, tickLength: 8, color: '#000', lineWidth: 1.8 },
          border: frame,
          afterFit: s => { s.height = TOP_AXIS_H; }
        },
        y: {
          type: 'linear', position: 'left', min: 0, max: 21,
          afterBuildTicks: setHeights,
          ticks: { font: { family: '"DejaVu Sans"', size: 17, weight: 'bold' }, color: '#000', padding: 8, callback: v => String(v).split('').join(' ') },
          grid: { drawOnChartArea: false, drawTicks: true, tickLength: 6, color: '#000', lineWidth: 1.8 },
          border: frame,
          title: { display: true, text: 'ALTURA   (KM)', font: { family: '"DejaVu Sans"', size: 16, weight: 'bold' }, color: '#000', padding: { top: 4, bottom: 0 } },
          afterFit: s => { s.width = Y_AXIS_W; }
        },
        y2: {
          type: 'linear', position: 'right', min: 0, max: 21,
          afterBuildTicks: setHeights,
          ticks: { display: false },
          grid: { drawOnChartArea: false, drawTicks: true, tickLength: 7, color: '#000', lineWidth: 1.8 },
          border: frame,
          afterFit: s => { s.width = RIGHT_AXIS_W; }
        }
      }
    },
    plugins: [labelPlugin(p)]
  });
}

panels.forEach(makePanel);
</script>
</body>
</html>
